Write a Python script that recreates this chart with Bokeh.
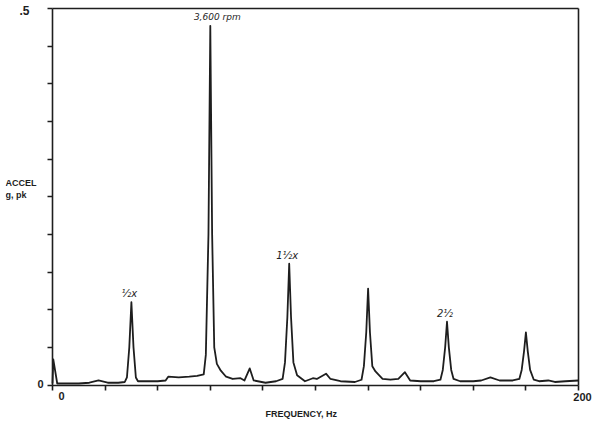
from bokeh.plotting import figure
from bokeh.models import Range1d, FixedTicker, Label, ColumnDataSource, LinearAxis
from bokeh.core.properties import value
from bokeh.embed import file_html
from bokeh.resources import INLINE

# Spectrum trace (Hz, g pk)
freq = [0, 0.3, 1.8, 5, 10, 14, 17.5, 21, 25, 27.5,
        28.3, 29.2, 30, 30.8, 31.7, 32.5, 35, 40, 43, 44, 48, 52, 55, 57.5,
        58.3, 59.3, 60, 60.7, 61.5, 62.5, 64, 66, 68.5, 71.5, 73, 75, 76.5, 81, 85, 87.5,
        88.4, 89.3, 90, 90.7, 91.6, 93, 96, 99, 100.5, 104, 105.7, 109.5, 115, 117.5,
        118.4, 119.3, 120, 120.7, 121.6, 122.8, 125.5, 128.5, 131.5, 134, 136, 140, 145, 147.5,
        148.4, 149.3, 150, 150.7, 151.6, 152.5, 155, 160, 163, 166.5, 170, 175, 177.5,
        178.4, 179.3, 180, 180.7, 181.6, 183, 185, 188.5, 191, 195, 200]
accel = [0.002, 0.034, 0.002, 0.002, 0.002, 0.003, 0.006, 0.003, 0.003, 0.004,
         0.01, 0.05, 0.11, 0.05, 0.01, 0.005, 0.005, 0.005, 0.006, 0.011, 0.01, 0.011, 0.012, 0.014,
         0.04, 0.2, 0.477, 0.2, 0.05, 0.028, 0.019, 0.011, 0.008, 0.009, 0.006, 0.022, 0.006, 0.003, 0.005, 0.008,
         0.03, 0.09, 0.161, 0.09, 0.03, 0.013, 0.005, 0.009, 0.008, 0.015, 0.008, 0.005, 0.004, 0.007,
         0.025, 0.07, 0.128, 0.07, 0.025, 0.018, 0.008, 0.007, 0.008, 0.017, 0.006, 0.005, 0.005, 0.007,
         0.02, 0.05, 0.084, 0.05, 0.02, 0.008, 0.005, 0.005, 0.006, 0.01, 0.006, 0.006, 0.008,
         0.02, 0.045, 0.07, 0.045, 0.02, 0.007, 0.005, 0.006, 0.004, 0.005, 0.006]

x_ticks = [0, 20, 40, 60, 80, 100, 120, 140, 160, 180, 200]
y_ticks = [0, 0.05, 0.1, 0.15, 0.2, 0.25, 0.3, 0.35, 0.4, 0.45, 0.5]
x_min, x_max = 0, 200
y_min, y_max = 0, 0.5

harm_freq = [30, 90, 150]
harm_accel = [0.11, 0.161, 0.084]
harm_text = ["½x", "1½x", "2½"]
main_freq = [60]
main_accel = [0.477]
main_text = ["3,600 rpm"]

INK = "#1e1e1e"

# layout (pixels): canvas size, borders, and where the plot box should sit
W, H = 596, 425
BL, BR, BT, BB = 5, 2, 2, 6
BOX_L, BOX_R, BOX_T, BOX_B = 52, 578, 8, 384.5
kx = (BOX_R - BOX_L) / (x_max - x_min)
ky = (BOX_B - BOX_T) / (y_max - y_min)
xr = Range1d(x_min - (BOX_L - BL) / kx, x_max + ((W - BR) - BOX_R) / kx)
yr = Range1d(y_min - ((H - BB) - BOX_B) / ky, y_max + (BOX_T - BT) / ky)

p = figure(width=W, height=H, output_backend="svg", toolbar_location=None,
           x_range=xr, y_range=yr,
           min_border_left=BL, min_border_right=BR, min_border_top=BT, min_border_bottom=BB,
           title=None)
p.background_fill_color = "white"
p.border_fill_color = "white"
p.outline_line_color = None
p.xgrid.visible = False
p.ygrid.visible = False

def style_axis(ax, ticks, loc, bounds, tick_len):
    ax.fixed_location = loc
    ax.bounds = bounds
    ax.ticker = FixedTicker(ticks=ticks)
    ax.minor_tick_line_color = None
    ax.major_tick_in = 0
    ax.major_tick_out = tick_len
    ax.axis_line_color = INK
    ax.axis_line_width = 1.6
    ax.major_tick_line_color = INK if tick_len else None
    ax.major_tick_line_width = 1.6
    ax.major_label_overrides = {t: "" for t in ticks}
    ax.major_label_standoff = 0
    ax.major_label_text_font_size = "1px"

style_axis(p.xaxis[0], x_ticks, y_min, (x_min, x_max), 5)
style_axis(p.yaxis[0], y_ticks, x_min, (y_min, y_max), 5)
top_ax = LinearAxis()
style_axis(top_ax, [], y_max, (x_min, x_max), 0)
p.add_layout(top_ax, "above")
right_ax = LinearAxis()
style_axis(right_ax, [], x_max, (y_min, y_max), 0)
p.add_layout(right_ax, "right")

p.line(freq, accel, line_color=INK, line_width=1.8, line_join="round")

src_h = ColumnDataSource(dict(x=harm_freq, y=harm_accel, t=harm_text))
p.text(x="x", y="y", text="t", source=src_h, text_align="center", text_baseline="bottom",
       x_offset=-2, y_offset=-3, text_font=value("DejaVu Sans"), text_font_style="italic",
       text_font_size="10px", text_color=INK)
src_m = ColumnDataSource(dict(x=main_freq, y=main_accel, t=main_text))
p.text(x="x", y="y", text="t", source=src_m, text_align="center", text_baseline="bottom",
       x_offset=7, y_offset=-4, text_font=value("DejaVu Sans"), text_font_style="italic",
       text_font_size="9px", text_color=INK)

def lab(x, y, text, dx, dy, align, size):
    p.add_layout(Label(x=x, y=y, text=text, x_offset=dx, y_offset=dy,
                       text_align=align, text_baseline="middle",
                       text_font="Liberation Sans", text_font_style="bold",
                       text_font_size=size, text_color=INK))

# tick labels
lab(x_min, y_min, str(x_min), 9, -11, "center", "11px")
lab(x_max, y_min, str(x_max), 4, -12, "center", "11px")
lab(x_min, y_max, ".5", -23, -2, "right", "12px")
lab(x_min, y_min, str(y_min), -9, 1, "right", "11px")
# axis titles
lab(x_min, y_min, "ACCEL", -47, 202, "left", "9px")
lab(x_min, y_min, "g, pk", -47, 190, "left", "9px")
lab(x_min, y_min, "FREQUENCY,  Hz", 250, -29, "center", "9px")

open("out.html", "w").write(file_html(p, INLINE))
